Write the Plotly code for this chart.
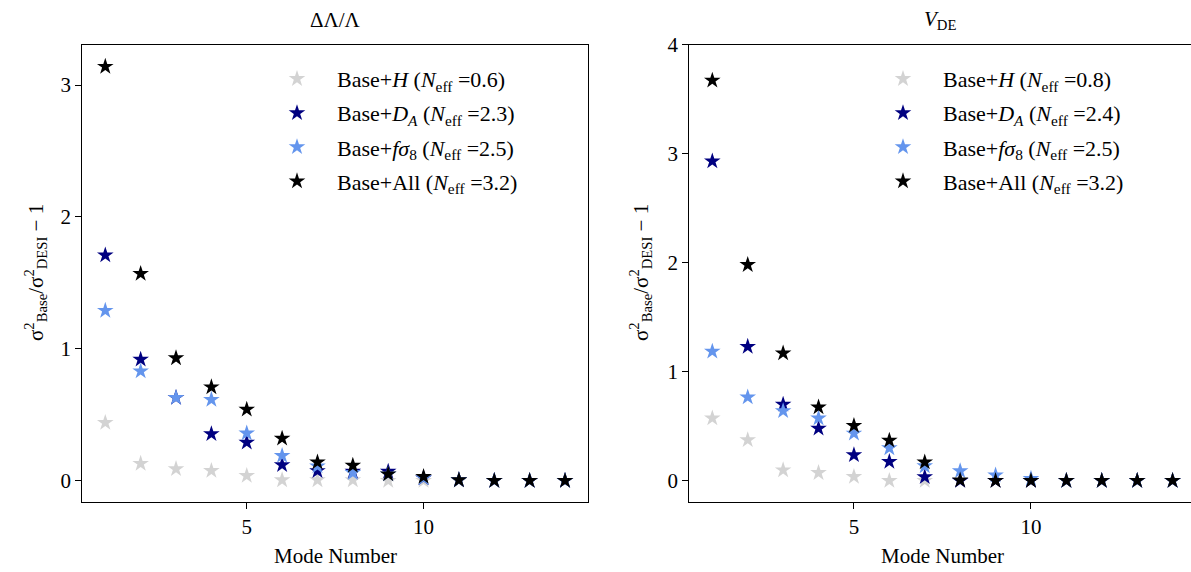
import plotly.graph_objects as go

W, H = 1191, 572

modes = list(range(1, 15))

# Left panel: Delta Lambda / Lambda
lam_H = [0.44, 0.13, 0.09, 0.076, 0.038, 0.005, 0.005, 0.005, 0.0, 0.0, 0.0, 0.0, 0.0, 0.0]
lam_DA = [1.71, 0.92, 0.63, 0.355, 0.29, 0.12, 0.075, 0.07, 0.07, 0.02, 0.005, 0.0, 0.0, 0.0]
lam_fs8 = [1.29, 0.83, 0.63, 0.615, 0.36, 0.19, 0.11, 0.06, 0.05, 0.02, 0.005, 0.0, 0.0, 0.0]
lam_All = [3.14, 1.57, 0.93, 0.71, 0.54, 0.32, 0.14, 0.115, 0.05, 0.03, 0.005, 0.0, 0.0, 0.0]

# Right panel: V_DE
vde_H = [0.573, 0.374, 0.098, 0.073, 0.037, 0.0, 0.0, 0.0, 0.0, 0.0, 0.0, 0.0, 0.0, 0.0]
vde_DA = [2.93, 1.23, 0.70, 0.48, 0.236, 0.175, 0.035, 0.0, 0.0, 0.0, 0.0, 0.0, 0.0, 0.0]
vde_fs8 = [1.185, 0.766, 0.64, 0.573, 0.435, 0.30, 0.135, 0.09, 0.05, 0.02, 0.0, 0.0, 0.0, 0.0]
vde_All = [3.67, 1.98, 1.17, 0.674, 0.505, 0.37, 0.17, 0.005, 0.0, 0.0, 0.0, 0.0, 0.0, 0.0]

neff_left = ["0.6", "2.3", "2.5", "3.2"]
neff_right = ["0.8", "2.4", "2.5", "3.2"]
labels = ["Base+<i>H</i>", "Base+<i>D</i><sub><i>A</i></sub>",
          "Base+<i>fσ</i><sub>8</sub>", "Base+All"]
colors = ["#d3d3d3", "#000080", "#6495ed", "#000000"]

FONT = "Liberation Serif"

fig = go.Figure()

left_series = [lam_H, lam_DA, lam_fs8, lam_All]
right_series = [vde_H, vde_DA, vde_fs8, vde_All]

for i, (ys, c) in enumerate(zip(left_series, colors)):
    fig.add_trace(go.Scatter(
        x=modes, y=ys, mode="markers", xaxis="x", yaxis="y",
        marker=dict(symbol="star", size=12.5, color=c, line=dict(width=0)),
        name=f"{labels[i]} (<i>N</i><sub>eff</sub> ={neff_left[i]})",
        legend="legend", legendgroup=f"L{i}",
    ))
for i, (ys, c) in enumerate(zip(right_series, colors)):
    fig.add_trace(go.Scatter(
        x=modes, y=ys, mode="markers", xaxis="x2", yaxis="y2",
        marker=dict(symbol="star", size=12.5, color=c, line=dict(width=0)),
        name=f"{labels[i]} (<i>N</i><sub>eff</sub> ={neff_right[i]})",
        legend="legend2", legendgroup=f"R{i}",
    ))

ydom = [1 - 501.5 / H, 1 - 44.5 / H]
axis_common = dict(
    showline=True, linecolor="black", linewidth=1.2,
    ticks="outside", ticklen=6, tickwidth=1.2, tickcolor="black",
    showgrid=False, zeroline=False, automargin=False,
    tickfont=dict(family=FONT, size=21, color="black"),
)

legend_common = dict(
    font=dict(family=FONT, size=22, color="black"),
    bgcolor="rgba(0,0,0,0)", borderwidth=0,
    traceorder="grouped", tracegroupgap=2.5, itemwidth=70,
    xanchor="left", yanchor="top",
)

fig.update_layout(
    width=W, height=H,
    margin=dict(l=0, r=0, t=0, b=0, pad=0, autoexpand=False),
    paper_bgcolor="white", plot_bgcolor="white",
    font=dict(family=FONT, size=21, color="black"),
    xaxis=dict(domain=[82.3 / W, 588.0 / W], range=[0.35, 14.65],
               tickvals=[5, 10], mirror=True, anchor="y", **axis_common),
    yaxis=dict(domain=ydom, range=[-0.1575, 3.3075],
               tickvals=[0, 1, 2, 3], mirror=True, anchor="x", **axis_common),
    xaxis2=dict(domain=[689.3 / W, 1.0], range=[0.35, 14.52],
                tickvals=[5, 10], mirror=True, anchor="y2", **axis_common),
    yaxis2=dict(domain=ydom, range=[-0.19, 4.0],
                tickvals=[0, 1, 2, 3, 4], mirror=False, anchor="x2", **axis_common),
    legend=dict(x=257 / W, y=1 - 58 / H, **legend_common),
    legend2=dict(x=863 / W, y=1 - 58 / H, **legend_common),
    showlegend=True,
)

ytitle = "σ<sup>2</sup><sub>Base</sub>/σ<sup>2</sup><sub>DESI</sub> − 1"
annots = [
    dict(text="ΔΛ/Λ", x=335 / W, y=1 - 20 / H),
    dict(text="<i>V</i><sub>DE</sub>", x=940 / W, y=1 - 20 / H),
    dict(text="Mode Number", x=335 / W, y=1 - 556 / H),
    dict(text="Mode Number", x=942 / W, y=1 - 556 / H),
    dict(text=ytitle, x=35 / W, y=1 - 273 / H, textangle=-90),
    dict(text=ytitle, x=640 / W, y=1 - 273 / H, textangle=-90),
]
for a in annots:
    fig.add_annotation(xref="paper", yref="paper", showarrow=False,
                       xanchor="center", yanchor="middle",
                       font=dict(family=FONT, size=21, color="black"), **a)

fig.write_html("out.html")
